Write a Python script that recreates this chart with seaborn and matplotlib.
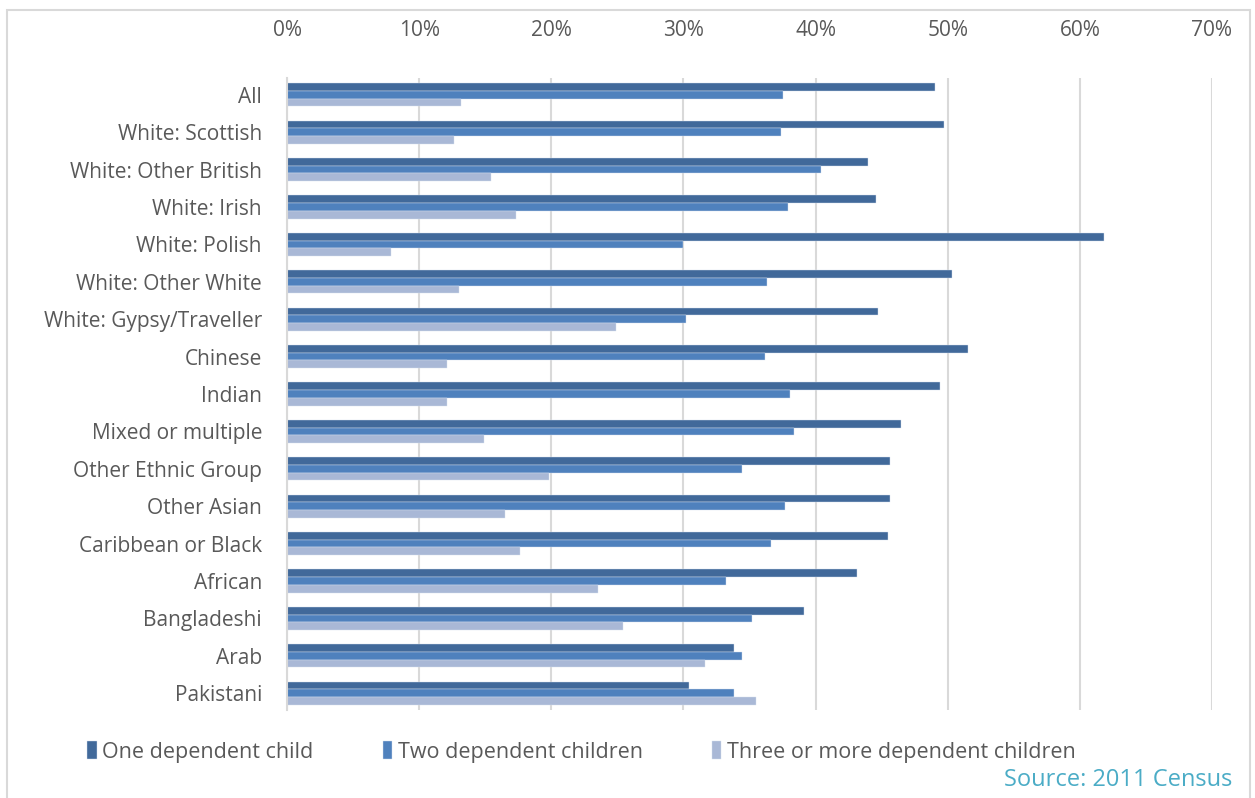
import pandas as pd
import matplotlib.pyplot as plt
import seaborn as sns
from matplotlib.patches import Rectangle
from matplotlib.ticker import PercentFormatter

sns.set_theme(style='white')
plt.rcParams['font.family'] = ['Open Sans', 'DejaVu Sans']

groups = ['All', 'White: Scottish', 'White: Other British', 'White: Irish', 'White: Polish',
          'White: Other White', 'White: Gypsy/Traveller', 'Chinese', 'Indian',
          'Mixed or multiple', 'Other Ethnic Group', 'Other Asian', 'Caribbean or Black',
          'African', 'Bangladeshi', 'Arab', 'Pakistani']
one_child = [49.0, 49.7, 44.0, 44.6, 61.8, 50.3, 44.7, 51.5, 49.4, 46.5, 45.6, 45.6, 45.5,
             43.1, 39.1, 33.8, 30.4]
two_children = [37.5, 37.4, 40.4, 37.9, 30.0, 36.3, 30.2, 36.2, 38.1, 38.4, 34.4, 37.7, 36.6,
                33.2, 35.2, 34.4, 33.8]
three_plus = [13.2, 12.6, 15.4, 17.3, 7.9, 13.0, 24.9, 12.1, 12.1, 14.9, 19.8, 16.5, 17.6,
              23.5, 25.4, 31.6, 35.5]
series = ['One dependent child', 'Two dependent children', 'Three or more dependent children']
colors = ['#41699A', '#4F81BD', '#A9B8D6']

rows = []
for name, vals in zip(series, [one_child, two_children, three_plus]):
    for g, v in zip(groups, vals):
        rows.append({'Group': g, 'Share': v, 'Series': name})
df = pd.DataFrame(rows)

fig = plt.figure(figsize=(12.55, 7.98), dpi=100)
ax = fig.add_axes([287 / 1255, 1 - 710 / 798, (1212 - 287) / 1255, (710 - 78) / 798])

sns.barplot(data=df, y='Group', x='Share', hue='Series', order=groups, hue_order=series,
            palette=colors, orient='h', width=0.62, ax=ax, edgecolor='#D6E0EE', linewidth=0.3,
            saturation=1, legend=True)

ax.set_xlim(0, 70)
ax.set_ylim(16.45, -0.45)
ax.set_xticks(range(0, 71, 10))
ax.xaxis.set_major_formatter(PercentFormatter(decimals=0))
ax.xaxis.tick_top()
ax.grid(axis='x', color='#D9D9D9', linewidth=1.5)
ax.set_axisbelow(True)
for s in ['top', 'right', 'bottom']:
    ax.spines[s].set_visible(False)
ax.spines['left'].set_color('#D9D9D9')
ax.spines['left'].set_linewidth(1.5)
ax.tick_params(axis='both', length=0, labelsize=15, labelcolor='#595959')
ax.tick_params(axis='x', pad=27)
ax.tick_params(axis='y', pad=18)
ax.set_xlabel('')
ax.set_ylabel('')

handles, labels = ax.get_legend_handles_labels()
ax.get_legend().remove()
fig.legend(handles, labels, loc='center left', bbox_to_anchor=(68 / 1255, 1 - 752 / 798), ncol=3,
           frameon=False, fontsize=15.5, labelcolor='#595959', handlelength=0.45,
           handleheight=0.9, handletextpad=0.25, columnspacing=3.2)

fig.text(1232 / 1255, 1 - 780 / 798, 'Source: 2011 Census', ha='right', va='center',
         fontsize=17, color='#4BACC6')

fig.patches.append(Rectangle((7 / 1255, -0.01), 1243 / 1255, 1.0 - 10 / 798 + 0.01,
                             transform=fig.transFigure, fill=False, edgecolor='#D9D9D9',
                             linewidth=1.5))

fig.savefig('out.png', dpi=100)
